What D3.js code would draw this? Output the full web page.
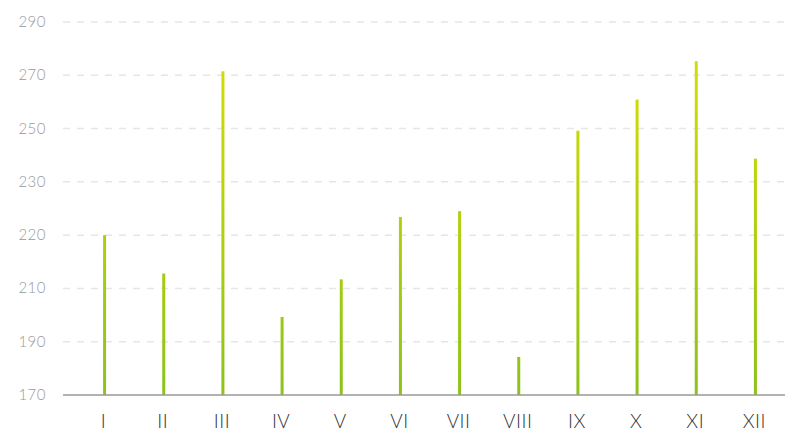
<!doctype html>
<head>
<style>
  body { margin: 0; background: #fff; font-family: "Lato", "Open Sans", sans-serif; }
  svg { display: block; }
</style>
<script src="https://cdnjs.cloudflare.com/ajax/libs/d3/7.8.5/d3.min.js"></script>
</head>
<body>
<script>
var months = ["I", "II", "III", "IV", "V", "VI", "VII", "VIII", "IX", "X", "XI", "XII"];
var values = [220, 212.8, 271.5, 199.3, 211.7, 223.4, 224.5, 184.3, 249.2, 260.9, 275.3, 238.7];
var tickLabels = [170, 190, 210, 220, 230, 250, 270, 290];

var W = 785, H = 432;
var plotTop = 22, plotBottom = 395, plotLeft = 63, plotRight = 785;

var svg = d3.select("body").append("svg")
  .attr("width", W)
  .attr("height", H);

var step = (plotBottom - plotTop) / (tickLabels.length - 1);
// the axis labels are evenly spaced, so the scale is piecewise
var y = d3.scaleLinear()
  .domain(tickLabels)
  .range(tickLabels.map((d, i) => plotBottom - i * step));

var x = d3.scaleBand()
  .domain(months)
  .range([75, plotRight]);

var grad = svg.append("defs").append("linearGradient")
  .attr("id", "barGrad")
  .attr("gradientUnits", "userSpaceOnUse")
  .attr("x1", 0).attr("x2", 0)
  .attr("y1", plotBottom).attr("y2", plotTop);
grad.append("stop").attr("offset", "0%").attr("stop-color", "#8cc21a");
grad.append("stop").attr("offset", "100%").attr("stop-color", "#dde000");

// grid lines
svg.append("g").selectAll("line")
  .data(tickLabels.slice(1))
  .enter().append("line")
    .attr("x1", plotLeft)
    .attr("x2", plotRight)
    .attr("y1", d => y(d))
    .attr("y2", d => y(d))
    .attr("stroke", "#e6e6e6")
    .attr("stroke-width", 1.5)
    .attr("stroke-dasharray", "7,7");

// y labels
svg.append("g").selectAll("text")
  .data(tickLabels)
  .enter().append("text")
    .attr("x", 46)
    .attr("y", d => y(d) + 5)
    .attr("text-anchor", "end")
    .attr("fill", "#999")
    .style("font-size", "15px")
    .style("font-weight", 300)
    .style("letter-spacing", "0.5px")
    .text(d => d);

// bars
svg.append("g").selectAll("rect")
  .data(values)
  .enter().append("rect")
    .attr("x", (d, i) => x(months[i]) + x.bandwidth() / 2 - 1.5)
    .attr("y", d => y(d))
    .attr("width", 3)
    .attr("height", d => plotBottom - y(d))
    .attr("fill", "url(#barGrad)");

// x axis line
svg.append("line")
  .attr("x1", plotLeft)
  .attr("x2", plotRight)
  .attr("y1", plotBottom)
  .attr("y2", plotBottom)
  .attr("stroke", "#999")
  .attr("stroke-width", 1.5);

// x labels
svg.append("g").selectAll("text")
  .data(months)
  .enter().append("text")
    .attr("x", d => x(d) + x.bandwidth() / 2 - 1)
    .attr("y", 428)
    .attr("text-anchor", "middle")
    .attr("fill", "#333")
    .style("font-size", "19px")
    .style("font-weight", 300)
    .style("letter-spacing", "0.5px")
    .text(d => d);
</script>
</body>
